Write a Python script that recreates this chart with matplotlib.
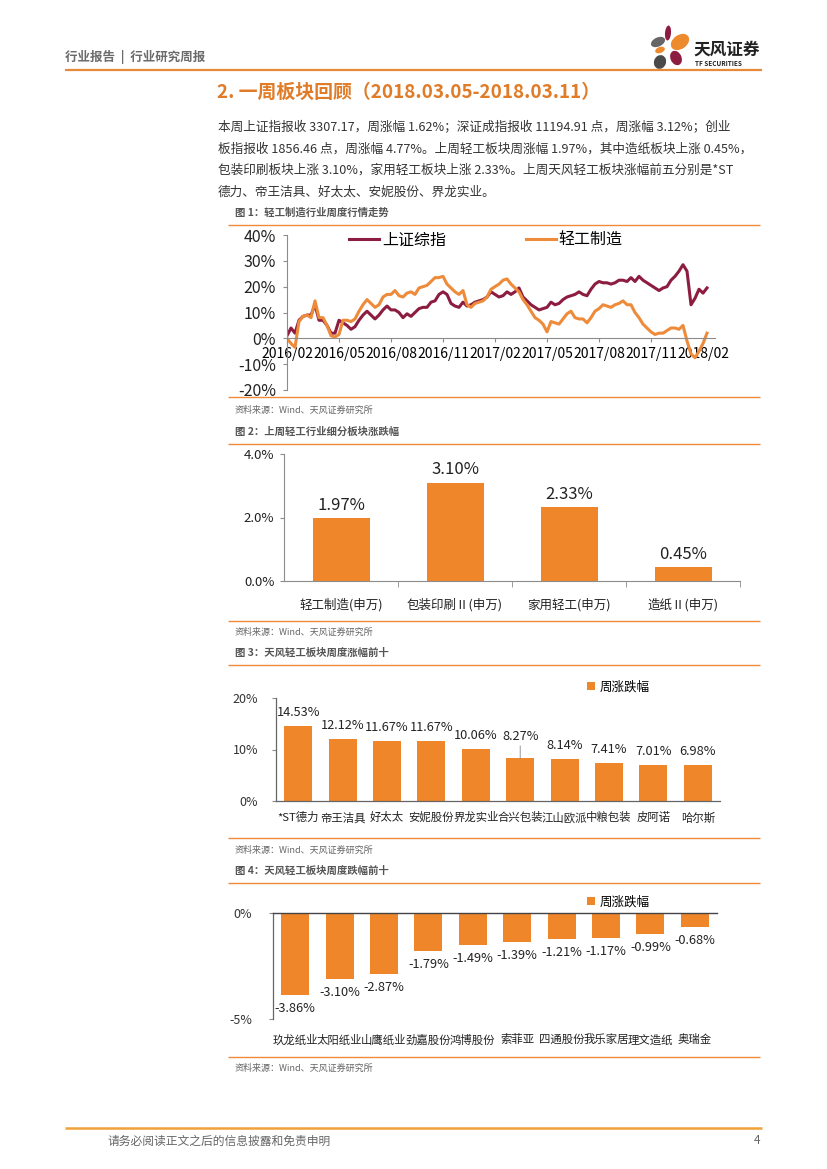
import matplotlib
matplotlib.use('Agg')
import matplotlib.pyplot as plt
import numpy as np
from matplotlib.patches import Ellipse

plt.rcParams['font.family'] = ['Noto Sans CJK SC', 'DejaVu Sans']
plt.rcParams['axes.unicode_minus'] = False

# ---------------- data ----------------
week_ticks = ['2016/02', '2016/05', '2016/08', '2016/11', '2017/02',
              '2017/05', '2017/08', '2017/11', '2018/02']
sh_index = [1, 4, 2, 7, 8.5, 9, 9, 13, 7, 7, 5, 2, 2, 7, 6, 5, 3.5, 4.5, 7, 9,
            10.5, 9, 7.5, 9, 11, 12.5, 11, 11, 10, 8, 9.5, 8.5, 10, 11.5, 12, 12, 14, 14.5, 17, 18,
            17, 13.5, 12.5, 12, 14, 12.5, 13, 14, 14.5, 15, 16, 18, 17, 16, 16.5, 18, 17, 18, 19.5, 16,
            14.5, 13, 12, 11, 11.5, 12, 14, 13, 13.5, 15, 16, 16.5, 17, 18, 17, 16.5, 19, 21, 22, 21.5,
            21.5, 21, 21.5, 22.5, 22.5, 22, 23.5, 22, 24, 22.5, 21.5, 20.5, 19.5, 18.5, 19.5, 20, 22.5, 24, 26, 28.5,
            26, 13, 15.5, 19, 17.5, 19.5]
light_ind = [0, -2, -3.5, 6.5, 8.5, 9, 8, 14.5, 8, 8, 5, 1, 0.5, 1.5, 7, 7, 6.5, 7.5, 10.5, 13,
             15, 13.5, 12, 13, 16, 17, 17, 18.5, 16.5, 16, 17.5, 18, 17, 19.5, 20, 20.5, 22, 23.5, 23.5, 24,
             21, 19.5, 18, 17, 18.5, 13, 12, 13.5, 14, 14.5, 16, 19, 20, 21, 22.5, 23, 21, 19.5, 18, 15,
             13, 10.5, 8, 7, 5.5, 2.5, 6.5, 6, 5.5, 7.5, 9.5, 10.5, 8, 7.5, 7.5, 6, 8, 10.5, 11.5, 13,
             12.5, 12, 13, 13.5, 14.5, 13, 13, 10, 8, 5.5, 4, 2.5, 1.5, 2, 2, 3, 4, 4, 3.5, 5,
             -1, -6, -7.5, -5, -2, 2]

sector_names = ['轻工制造(申万)', '包装印刷Ⅱ(申万)', '家用轻工(申万)', '造纸Ⅱ(申万)']
sector_chg = [1.97, 3.10, 2.33, 0.45]

top_names = ['*ST德力', '帝王洁具', '好太太', '安妮股份', '界龙实业',
             '合兴包装', '江山欧派', '中粮包装', '皮阿诺', '哈尔斯']
top_chg = [14.53, 12.12, 11.67, 11.67, 10.06, 8.27, 8.14, 7.41, 7.01, 6.98]

bottom_names = ['玖龙纸业', '太阳纸业', '山鹰纸业', '劲嘉股份', '鸿博股份',
                '索菲亚', '四通股份', '我乐家居', '理文造纸', '奥瑞金']
bottom_chg = [-3.86, -3.10, -2.87, -1.79, -1.49, -1.39, -1.21, -1.17, -0.99, -0.68]

# ---------------- style ----------------
BAR = '#F0862A'
RED = '#8C1D40'
LINE_OR = '#EE8B3A'
GRAY_T = '#555555'
AXC = '#8C8C8C'

W, H = 827, 1169
fig = plt.figure(figsize=(W / 100, H / 100), dpi=100)


def fx(x):
    return x / W


def fy(y):
    return 1 - y / H


def add_ax(l, t, r, b):
    return fig.add_axes([l / W, 1 - b / H, (r - l) / W, (b - t) / H])


# overlay in pixel coordinates for page decorations
ov = fig.add_axes([0, 0, 1, 1], zorder=-1)
ov.set_xlim(0, W)
ov.set_ylim(H, 0)
ov.axis('off')


def hline(y, x0, x1, color=LINE_OR, lw=1.0):
    ov.plot([x0, x1], [y, y], color=color, lw=lw, solid_capstyle='butt')


# header
fig.text(fx(65), fy(57), '行业报告  |  行业研究周报', fontsize=9, color='#6b6b6b',
         fontweight='bold', va='center', ha='left')
hline(70, 65, 762, color='#E8893A', lw=1.6)

# logo
petals = [
    (668, 33, 6, 15, 5, '#8C1D40'),
    (680, 42, 14, 20, 55, '#EE8A2E'),
    (658, 42, 9, 15, 65, '#666666'),
    (660, 50, 6, 10, 70, '#EE8A2E'),
    (676, 58, 11, 15, -25, '#8C1D40'),
    (660, 62, 12, 14, 20, '#4a4a4a'),
]
for (cx, cy, w_, h_, ang, c) in petals:
    ov.add_patch(Ellipse((cx, cy), w_, h_, angle=ang, color=c, lw=0))
fig.text(fx(693), fy(50), '天风证券', fontsize=12, fontweight='bold', color='#222222',
         va='center', ha='left')
fig.text(fx(695), fy(63), 'TF SECURITIES', fontsize=4.6, fontweight='bold', color='#222222',
         va='center', ha='left')

# title
fig.text(fx(217), fy(92), '2. 一周板块回顾（2018.03.05-2018.03.11）', fontsize=13.6,
         fontweight='bold', color='#E07B28', va='center', ha='left')

para = [
    '本周上证指报收 3307.17，周涨幅 1.62%；深证成指报收 11194.91 点，周涨幅 3.12%；创业',
    '板指报收 1856.46 点，周涨幅 4.77%。上周轻工板块周涨幅 1.97%，其中造纸板块上涨 0.45%，',
    '包装印刷板块上涨 3.10%，家用轻工板块上涨 2.33%。上周天风轻工板块涨幅前五分别是*ST',
    '德力、帝王洁具、好太太、安妮股份、界龙实业。',
]
for i, line in enumerate(para):
    fig.text(fx(218), fy(127 + i * 21.8), line, fontsize=9.1, color='#333333',
             va='center', ha='left')


def caption(y, text):
    fig.text(fx(235), fy(y), text, fontsize=7.5, fontweight='bold', color=GRAY_T,
             va='center', ha='left')


def source(y):
    fig.text(fx(235), fy(y), '资料来源：Wind、天风证券研究所', fontsize=6.5,
             color='#666666', va='center', ha='left')


# ---------- Figure 1 ----------
caption(213, '图 1：轻工制造行业周度行情走势')
hline(225, 228, 760)
hline(397, 228, 760)
source(410)

ax1 = add_ax(287, 235, 715, 390)
xs = np.arange(len(sh_index))
ax1.plot(xs, sh_index, color=RED, lw=2.2, label='上证综指', solid_joinstyle='round')
ax1.plot(xs, light_ind, color=LINE_OR, lw=2.2, label='轻工制造', solid_joinstyle='round')
ax1.set_ylim(-20, 40)
ax1.set_xlim(0, 107)
ax1.set_yticks([-20, -10, 0, 10, 20, 30, 40])
ax1.set_yticklabels([f'{v}%' for v in [-20, -10, 0, 10, 20, 30, 40]], fontsize=11.5,
                    color='#222222')
ax1.set_xticks(np.arange(len(week_ticks)) * 13)
ax1.set_xticklabels(week_ticks, fontsize=6.6, color='#222222')
ax1.spines['bottom'].set_position(('data', 0))
for s in ['top', 'right']:
    ax1.spines[s].set_visible(False)
for s in ['left', 'bottom']:
    ax1.spines[s].set_color(AXC)
    ax1.spines[s].set_linewidth(0.8)
ax1.tick_params(axis='x', length=3, color=AXC, pad=3)
ax1.tick_params(axis='y', length=3, color=AXC, pad=5)
ax1.patch.set_alpha(0)
ax1.legend(loc='upper left', bbox_to_anchor=(fx(349), fy(232)), bbox_transform=fig.transFigure,
           ncol=2, frameon=False, fontsize=11.5, handlelength=1.9, handletextpad=0.15,
           columnspacing=5.0, borderpad=0, borderaxespad=0)

# ---------- Figure 2 ----------
caption(432, '图 2：上周轻工行业细分板块涨跌幅')
hline(444, 228, 760)
hline(621, 228, 760)
source(632)

ax2 = add_ax(284, 454, 740, 581)
ax2.bar(np.arange(len(sector_chg)), sector_chg, width=0.5, color=BAR)
ax2.set_ylim(0, 4)
ax2.set_xlim(-0.5, len(sector_chg) - 0.5)
ax2.set_yticks([0, 2, 4])
ax2.set_yticklabels(['0.0%', '2.0%', '4.0%'], fontsize=9.5, color='#222222')
ax2.set_xticks(np.arange(len(sector_chg)))
ax2.set_xticklabels(sector_names, fontsize=9, color='#222222')
ax2.set_xticks(np.arange(len(sector_chg)) + 0.5, minor=True)
ax2.tick_params(axis='x', which='major', length=0, pad=12)
ax2.tick_params(axis='x', which='minor', length=4, color=AXC)
ax2.tick_params(axis='y', length=3, color=AXC, pad=4)
for s in ['top', 'right']:
    ax2.spines[s].set_visible(False)
for s in ['left', 'bottom']:
    ax2.spines[s].set_color(AXC)
    ax2.spines[s].set_linewidth(0.8)
for i, v in enumerate(sector_chg):
    ax2.annotate(f'{v:.2f}%', (i, v), xytext=(0, 3), textcoords='offset points',
                 ha='center', va='bottom', fontsize=12, color='#222222')

# ---------- Figure 3 ----------
caption(653, '图 3：天风轻工板块周度涨幅前十')
hline(665, 228, 760)
hline(838, 228, 760)
source(850)

ax3 = add_ax(276, 698, 720, 801)
ax3.bar(np.arange(len(top_chg)), top_chg, width=0.63, color=BAR, label='周涨跌幅')
ax3.set_ylim(0, 20)
ax3.set_xlim(-0.5, len(top_chg) - 0.5)
ax3.set_yticks([0, 10, 20])
ax3.set_yticklabels(['0%', '10%', '20%'], fontsize=9, color='#333333')
ax3.set_xticks(np.arange(len(top_chg)))
ax3.set_xticklabels(top_names, fontsize=8.2, color='#222222')
ax3.tick_params(axis='x', length=0, pad=8)
ax3.tick_params(axis='y', length=3, color=AXC, pad=10)
for s in ['top', 'right']:
    ax3.spines[s].set_visible(False)
for s in ['left', 'bottom']:
    ax3.spines[s].set_color('#666666')
    ax3.spines[s].set_linewidth(0.9)
for i, v in enumerate(top_chg):
    if i == 5:
        ax3.annotate(f'{v:.2f}%', (i, v), xytext=(0, 11), textcoords='offset points',
                     ha='center', va='bottom', fontsize=9.2, color='#222222',
                     arrowprops=dict(arrowstyle='-', color='#888888', lw=0.6,
                                     shrinkA=0, shrinkB=0))
    else:
        ax3.annotate(f'{v:.2f}%', (i, v), xytext=(0, 5), textcoords='offset points',
                     ha='center', va='bottom', fontsize=9.2, color='#222222')
ax3.legend(loc='center left', bbox_to_anchor=(fx(587), fy(687)), bbox_transform=fig.transFigure,
           frameon=False, fontsize=9, handlelength=0.6, handleheight=0.6, handletextpad=0.4,
           borderpad=0, borderaxespad=0)

# ---------- Figure 4 ----------
caption(871, '图 4：天风轻工板块周度跌幅前十')
hline(883, 228, 760)
hline(1057, 228, 760)
source(1068)

ax4 = add_ax(273, 913, 717, 1019)
ax4.bar(np.arange(len(bottom_chg)), bottom_chg, width=0.63, color=BAR, label='周涨跌幅')
ax4.set_ylim(-5, 0)
ax4.set_xlim(-0.5, len(bottom_chg) - 0.5)
ax4.set_yticks([-5, 0])
ax4.set_yticklabels(['-5%', '0%'], fontsize=9, color='#333333')
ax4.set_xticks(np.arange(len(bottom_chg)))
ax4.set_xticklabels(bottom_names, fontsize=8.2, color='#222222')
ax4.tick_params(axis='x', length=0, pad=11)
ax4.tick_params(axis='y', length=3, color=AXC, pad=12)
for s in ['bottom', 'right']:
    ax4.spines[s].set_visible(False)
ax4.spines['top'].set_color('#444444')
ax4.spines['top'].set_linewidth(1.0)
ax4.spines['left'].set_color('#666666')
ax4.spines['left'].set_linewidth(0.9)
for i, v in enumerate(bottom_chg):
    ax4.annotate(f'{v:.2f}%', (i, v), xytext=(0, -5), textcoords='offset points',
                 ha='center', va='top', fontsize=9.2, color='#222222')
ax4.legend(loc='center left', bbox_to_anchor=(fx(587), fy(902)), bbox_transform=fig.transFigure,
           frameon=False, fontsize=9, handlelength=0.6, handleheight=0.6, handletextpad=0.4,
           borderpad=0, borderaxespad=0)

# footer
hline(1128, 65, 762, color='#EFA23A', lw=1.8)
fig.text(fx(107), fy(1141), '请务必阅读正文之后的信息披露和免责申明', fontsize=8.5,
         color='#666666', va='center', ha='left')
fig.text(fx(760), fy(1141), '4', fontsize=8.5, color='#666666', va='center', ha='right')

fig.savefig('out.png', dpi=100)
